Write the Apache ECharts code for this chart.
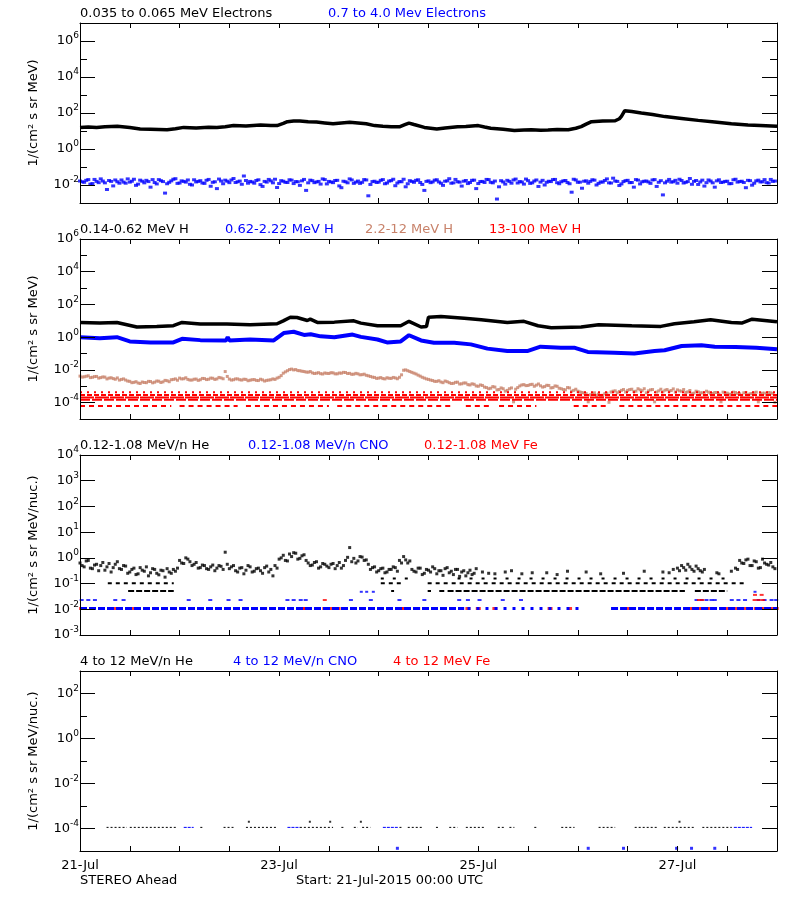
<!DOCTYPE html>
<html><head><meta charset="utf-8">
<script src="https://cdn.jsdelivr.net/npm/echarts@6/dist/echarts.min.js"></script>
<style>html,body{margin:0;padding:0;background:#fff}#c{width:800px;height:900px}</style>
</head><body><div id="c"></div><script>
const FONT = 'DejaVu Sans';
const TAN = '#c8826a', BLUE = '#0000ff', RED = '#ff0000', BLACK = '#000000';

// x values: hours since Start 21-Jul-2015 00:00 UTC ; x tick labels every 48 h
const xTickLabels = ['21-Jul', '23-Jul', '25-Jul', '27-Jul'];
// y ranges per panel (decades)
const yExpRanges = [[-3, 7], [-5, 6], [-3, 4], [-5, 3]];

// ---- Panel 1: electrons (log10 values) ----
const eLowT = [0,2,4,6,9,12,14.5,17,21,23, 25,28,31,33,35,37,40,43.5,46,47.5, 49,50,51.5,53,55,57,59,61,63,65,
  67,69,71,73,75,77,78.3,79.3,80.5,83, 86,88,91,93,96,97.5,99,102,104.7,107, 108.8,111,112.8,115,117.7,119.5,120.8,122,123.3,126,
  129,130,130.5,131.3,133,135.3,138,141,145,149, 153,157,161,164,168];
const eLowLog = [1.20,1.22,1.20,1.24,1.26,1.20,1.11,1.10,1.07,1.12, 1.20,1.17,1.21,1.20,1.24,1.30,1.28,1.33,1.31,1.30,
  1.42,1.52,1.56,1.55,1.52,1.50,1.45,1.40,1.45,1.48, 1.45,1.40,1.30,1.26,1.24,1.23,1.35,1.44,1.36,1.20,
  1.11,1.17,1.24,1.25,1.30,1.22,1.15,1.10,1.03,1.06, 1.07,1.04,1.05,1.08,1.07,1.15,1.24,1.38,1.52,1.55,
  1.57,1.68,1.81,2.13,2.08,2.00,1.92,1.80,1.70,1.59, 1.50,1.40,1.33,1.30,1.26];
// hourly samples (two per hour: on the hour, and half past)
const eHighLogA = [
-1.78,-1.85,-1.70,-1.92,-1.80,-1.66,-1.88,-1.75,-2.05,-1.82,-1.72,-1.90,
-1.84,-1.68,-1.95,-1.79,-1.74,-2.12,-1.86,-1.70,-1.81,-1.93,-1.77,-1.65,
-1.89,-1.80,-1.72,-2.00,-1.83,-1.76,-1.91,-1.69,-1.85,-2.20,-1.78,-1.73,
-1.87,-1.64,-1.82,-1.96,-1.75,-1.80,-1.90,-1.71,-2.08,-1.84,-1.77,-1.68,
-1.92,-1.79,-1.86,-1.73,-1.81,-2.02,-1.69,-1.88,-1.76,-1.83,-1.95,-1.70,
-1.80,-1.87,-1.74,-2.15,-1.82,-1.66,-1.91,-1.78,-1.85,-1.72,-1.97,-1.79,
-1.84,-1.70,-1.89,-1.76,-2.04,-1.81,-1.68,-1.93,-1.80,-1.74,-1.86,-2.30,
-1.77,-1.83,-1.71,-1.90,-1.79,-1.65,-1.88,-1.82,-2.06,-1.75,-1.86,-1.73,
-1.92,-1.80,-1.69,-1.85,-1.78,-2.10,-1.83,-1.74,-1.90,-1.67,-1.81,-1.95,
-1.76,-1.88,-1.72,-1.84,-2.00,-1.79,-1.70,-1.87,-1.82,-1.75,-1.93,-1.68,
-1.85,-2.18,-1.77,-1.80,-1.73,-1.91,-1.84,-1.66,-1.89,-1.78,-2.03,-1.81,
-1.74,-1.86,-1.70,-1.94,-1.79,-1.83,-1.72,-2.08,-1.76,-1.88,-1.69,-1.82,
-1.90,-1.75,-1.85,-1.64,-1.80,-1.97,-1.73,-1.87,-1.78,-2.12,-1.71,-1.84,
-1.79,-1.92,-1.68,-1.81,-1.86,-1.74,-2.01,-1.77,-1.83,-1.70,-1.89,-1.80];
const eHighLogB = [
-1.82,-1.74,-1.95,-1.69,-1.87,-1.78,-2.25,-1.80,-1.72,-1.90,-1.84,-1.66,
-1.79,-2.02,-1.73,-1.88,-1.81,-1.70,-1.94,-1.76,-2.45,-1.85,-1.68,-1.91,
-1.77,-1.84,-1.96,-1.71,-1.80,-1.89,-1.74,-2.07,-1.82,-1.67,-1.93,-1.79,
-1.72,-1.86,-1.78,-1.50,-1.90,-1.83,-1.75,-1.98,-1.80,-1.69,-1.88,-2.14,
-1.76,-1.85,-1.71,-1.92,-1.82,-1.77,-2.30,-1.73,-1.87,-1.80,-1.66,-1.94,
-1.83,-1.75,-2.05,-1.79,-1.88,-1.72,-1.84,-1.91,-1.70,-2.60,-1.81,-1.86,
-1.74,-1.93,-1.78,-1.68,-1.89,-1.82,-2.10,-1.76,-1.85,-1.71,-1.97,-1.80,
-1.87,-1.73,-1.83,-2.02,-1.77,-1.90,-1.69,-1.84,-1.79,-1.92,-1.74,-2.20,
-1.81,-1.86,-1.70,-1.88,-2.78,-1.76,-1.95,-1.80,-1.72,-1.89,-1.83,-1.67,
-1.91,-1.78,-2.08,-1.74,-1.85,-1.81,-1.69,-1.93,-1.77,-1.86,-2.40,-1.72,
-1.84,-1.79,-1.90,-1.71,-2.00,-1.83,-1.75,-1.88,-1.62,-1.80,-1.94,-1.76,
-1.87,-2.12,-1.73,-1.82,-1.78,-1.91,-1.70,-1.85,-2.55,-1.79,-1.84,-1.74,
-1.68,-1.89,-1.81,-1.96,-1.75,-1.83,-2.06,-1.72,-1.88,-1.77,-1.86,-1.80,
-1.93,-1.71,-1.84,-1.79,-2.15,-1.76,-1.90,-1.73,-1.82,-1.87,-1.69,-1.78];

// ---- Panel 2: protons ----
const hLowT = [0,4.8,8.9,11.3,13.7,18.5,22.5,24.6,29,35.4, 41,47.5,49,50.7,52.3,54.8,55.5,57.2,61.3,66,
  67.7,71.7,77.3,79.3,82.2,83.5,84,87,92.6,96.7, 103,107,110.4,113.6,120.8,125,133,140,143.3,148, 152,157,159.5,162,168];
const hLowLog = [0.90,0.86,0.90,0.76,0.62,0.66,0.70,0.90,0.80,0.80, 0.76,0.82,1.00,1.22,1.20,1.02,1.10,0.90,0.92,1.00,
  0.86,0.70,0.70,0.97,0.62,0.65,1.22,1.26,1.16,1.06, 0.90,0.97,0.70,0.58,0.62,0.76,0.70,0.66,0.82,0.94, 1.06,0.90,0.86,1.10,0.94];
const hMidT = [0,4.8,8.9,12,17,22.5,24.6,29,35.2,35.6, 36,41,46.7,49.1,51.5,54,55.6,58,61.3,65.7,
  67.7,71.7,74,77.3,79.3,82.2,85.3,90.2,94.2,98.2, 103,107.8,111,115.9,119.1,122.4,128.8,133.6,138.5,140.9, 145,149.8,153,158,163,168];
const hMidLog = [-0.01,-0.06,0.00,-0.26,-0.32,-0.32,-0.10,-0.18,-0.20,0.00, -0.20,-0.14,-0.20,0.25,0.33,0.14,0.18,0.05,0.00,0.16,
  0.02,-0.14,-0.32,-0.26,0.12,-0.20,-0.34,-0.34,-0.44,-0.70, -0.85,-0.85,-0.58,-0.64,-0.64,-0.90,-0.95,-1.00,-0.85,-0.80,
  -0.54,-0.50,-0.58,-0.60,-0.64,-0.74];
const hHighLogA = [
-2.38,-2.42,-2.36,-2.45,-2.40,-2.47,-2.44,-2.50,-2.53,-2.49,-2.58,-2.62,
-2.70,-2.76,-2.80,-2.74,-2.78,-2.71,-2.75,-2.69,-2.73,-2.66,-2.60,-2.55,
-2.50,-2.54,-2.58,-2.62,-2.56,-2.60,-2.53,-2.57,-2.51,-2.55,-2.49,-2.10,
-2.56,-2.60,-2.55,-2.62,-2.58,-2.63,-2.59,-2.65,-2.61,-2.64,-2.60,-2.58,
-2.45,-2.20,-2.05,-1.95,-1.98,-2.05,-2.10,-2.14,-2.18,-2.20,-2.23,-2.19,
-2.22,-2.18,-2.24,-2.20,-2.16,-2.21,-2.26,-2.24,-2.29,-2.33,-2.40,-2.46,
-2.50,-2.53,-2.48,-2.52,-2.49,-2.45,-2.02,-2.05,-2.15,-2.25,-2.38,-2.50,
-2.58,-2.65,-2.70,-2.74,-2.68,-2.78,-2.82,-2.75,-2.85,-2.80,-2.92,-2.88,
-3.00,-2.95,-3.08,-3.12,-3.05,-3.20,-3.15,-3.25,-3.10,-3.18,-2.98,-2.90,
-2.95,-2.88,-2.93,-2.97,-3.02,-2.95,-3.08,-3.00,-3.15,-3.22,-3.10,-3.25,
-3.30,-3.38,-3.45,-3.52,-3.40,-3.48,-3.55,-3.42,-3.35,-3.28,-3.32,-3.20,
-3.25,-3.18,-3.30,-3.22,-3.15,-3.28,-3.20,-3.35,-3.18,-3.24,-3.30,-3.16,
-3.22,-3.30,-3.38,-3.26,-3.42,-3.34,-3.40,-3.30,-3.45,-3.38,-3.48,-3.36,
-3.42,-3.50,-3.38,-3.46,-3.40,-3.52,-3.44,-3.36,-3.48,-3.42,-3.38,-3.45];
const hHighLogB = [
-2.44,-2.39,-2.47,-2.41,-2.50,-2.43,-2.55,-2.48,-2.57,-2.62,-2.55,-2.68,
-2.78,-2.72,-2.83,-2.77,-2.70,-2.79,-2.68,-2.77,-2.64,-2.72,-2.58,-2.63,
-2.55,-2.48,-2.62,-2.57,-2.64,-2.52,-2.59,-2.50,-2.58,-2.46,-2.54,-2.40,
-2.62,-2.55,-2.60,-2.57,-2.66,-2.60,-2.64,-2.57,-2.68,-2.62,-2.55,-2.50,
-2.35,-2.12,-1.98,-2.00,-2.04,-2.08,-2.13,-2.10,-2.22,-2.17,-2.25,-2.21,
-2.17,-2.24,-2.19,-2.15,-2.22,-2.27,-2.21,-2.30,-2.26,-2.36,-2.44,-2.52,
-2.47,-2.55,-2.51,-2.46,-2.54,-2.30,-2.00,-2.10,-2.20,-2.32,-2.45,-2.55,
-2.62,-2.70,-2.66,-2.78,-2.72,-2.83,-2.76,-2.86,-2.80,-2.90,-2.85,-2.98,
-2.92,-3.05,-3.15,-3.02,-3.22,-3.10,-3.30,-3.15,-3.95,-3.08,-2.92,-2.96,
-2.90,-3.00,-2.86,-3.05,-2.94,-3.10,-2.98,-3.12,-3.20,-3.08,-3.30,-3.18,
-3.35,-3.42,-3.95,-3.48,-3.55,-3.62,-3.45,-3.98,-3.30,-3.40,-3.25,-3.35,
-3.20,-3.32,-3.15,-3.27,-3.40,-3.22,-3.95,-3.28,-3.34,-3.20,-3.26,-3.35,
-3.28,-3.20,-3.34,-3.45,-3.30,-3.40,-3.52,-3.36,-3.44,-3.38,-3.95,-3.42,
-3.48,-3.36,-3.44,-3.55,-3.38,-3.46,-3.40,-3.95,-3.42,-3.50,-3.40,-3.98];
// 13-100 MeV H: count-quantised levels (log10) and the hour spans where they occur
const hTopLevels = [-3.37, -3.54, -3.68, -3.82, -4.20];
const hTopSpans = [
  [[0,168]],
  [[0,168]],
  [[0,168]],
  [[0,168]],
  [[0,22],[24,38],[40,60],[62,90],[93,99],[101,110],[119,127],[130,168]]];

// ---- Panel 3: 0.12-1.08 MeV/n ions ----
const heLogA = [
-0.20,-0.35,-0.10,-0.42,-0.25,-0.30,-0.48,-0.22,-0.38,-0.15,-0.45,-0.32,
-0.55,-0.40,-0.62,-0.48,-0.35,-0.58,-0.45,-0.66,-0.50,-0.42,-0.60,-0.52,
-0.10,-0.22,-0.05,-0.30,-0.18,-0.38,-0.30,-0.45,-0.28,-0.40,-0.33,0.22,
-0.42,-0.30,-0.55,-0.38,-0.48,-0.35,-0.52,-0.40,-0.60,-0.32,-0.45,-0.30,
-0.05,0.10,-0.12,0.05,0.18,-0.02,0.12,-0.20,-0.28,-0.15,-0.35,-0.25,
-0.38,-0.22,-0.30,-0.40,-0.10,0.40,-0.02,-0.12,0.03,-0.08,-0.45,-0.35,
-0.50,-0.40,-0.55,-0.45,-0.38,-0.10,0.05,-0.20,-0.45,-0.55,-0.40,-0.60,
-0.48,-0.35,-0.62,-0.50,-0.42,-0.58,-0.65,-0.45,-0.55,-0.70,-0.48,-0.60,
null,-0.55,null,null,-0.62,null,null,null,-0.50,null,null,null,
null,-0.58,null,null,null,null,null,-0.65,null,null,null,null,
null,null,-0.55,null,null,null,null,null,null,null,null,-0.60,
null,null,null,null,-0.52,null,null,null,null,null,-0.58,-0.45,
-0.40,-0.30,-0.48,-0.35,-0.52,-0.42,-0.55,null,null,null,-0.62,null,
null,-0.52,-0.40,-0.10,-0.22,-0.05,-0.30,-0.15,-0.38,-0.20,-0.28,-0.35];
const heLogB = [
-0.30,-0.12,-0.40,-0.28,-0.50,-0.18,-0.35,-0.55,-0.25,-0.42,-0.30,-0.60,
-0.45,-0.65,-0.38,-0.52,-0.70,-0.42,-0.60,-0.48,-0.75,-0.55,-0.45,-0.40,
-0.20,0.00,-0.15,-0.25,-0.40,-0.28,-0.42,-0.35,-0.50,-0.30,-0.45,-0.25,
-0.35,-0.50,-0.40,-0.62,-0.30,-0.55,-0.42,-0.50,-0.38,-0.55,-0.70,-0.40,
0.00,-0.10,0.15,0.20,-0.05,0.08,-0.10,-0.30,-0.18,-0.40,-0.22,-0.32,
-0.25,-0.42,-0.18,-0.30,0.02,-0.15,-0.20,0.05,-0.10,-0.25,-0.38,-0.55,
-0.42,-0.58,-0.45,-0.35,-0.52,-0.20,-0.08,-0.12,-0.52,-0.40,-0.65,-0.45,
-0.55,-0.42,-0.50,-0.68,-0.38,-0.52,-0.45,-0.72,-0.50,-0.58,-0.65,-0.42,
null,null,-0.60,null,null,null,-0.55,null,null,null,-0.62,null,
null,null,null,null,-0.58,null,null,null,null,-0.52,null,null,
null,null,null,null,null,-0.62,null,null,null,null,null,null,
null,null,null,null,null,null,null,null,-0.55,null,null,null,
-0.50,-0.38,-0.25,-0.45,-0.32,-0.50,-0.45,null,null,-0.58,null,null,
null,null,-0.45,-0.20,-0.08,-0.30,-0.12,-0.40,-0.05,-0.25,-0.18,-0.42];
// He count-quantised rows
const heRowLevels = [-1.29, -0.99, -0.80];
const heRowSpans = [
  [[11.6,22.6],[75,75.7],[83.8,84.6],[86.6,87.8],[88.6,145.8],[148.2,156]],
  [[6.7,22.6],[72.5,78],[83.8,160.3]],
  [[72.5,80],[91,157]]];
// CNO
const cnoRowLevel = -1.97;
const cnoRowDense = [[0,92.6],[128,168]];
const cnoRowSparse = [[93.4,121]];
const cno2Level = -1.64;
const cno2Hours = [0.4,2,3.6,8.5,10.5,26.2,31.4,35.8,38.7,50,51.5,53.2,54.4,65.3,70.1,77,83,91.4,93.5,96.3,101.9,106.3,
  148.6,149.8,151,152.2,153,157.1,158.7,160.3,163.5,165,166.7,167.8];
const cno3Level = -1.32;
const cno3Hours = [67.8, 69.1, 70.7, 162.7];
// Fe
const feLevel = -1.97;
const feHours = [0.4,8.5,12.9,29,44,44.5,53.7,54.4,55,59,60.6,62.2,76.6,77.4,78.2,79,81.4,93.5,96,100,113.3,118,132.4,133.4,
  146,147,148,149,150,151,152,154.8,155.8,156.8,158,159,160,161.6,163,164,165,166,167,167.8];
const fe2Level = -1.64;
const fe2Hours = [59, 149.2, 150, 162.6, 163.6, 164.6];
const fe3Level = -1.44;
const fe3Hours = [162.7, 164.3];

// ---- Panel 4: 4-12 MeV/n ions ----
const hiRowLevel = -3.95;
const hiHeSpans = [[6.4,11.3],[12,23.4],[29,29.8],[34.6,37],[40,47.5],[53,61],[63,63.6],[66,67],[68,70],[77,77.5],[79,82.6],
  [85.8,86.3],[89,91],[93,97.4],[100.7,102.3],[103.5,104.7],[109.5,110.4],[116,119.2],[125,129],[133.7,139.4],[140.7,148.2],[150,157.1]];
const hiCnoSpans = [[25,27.4],[50,53],[73,76.6],[157.6,162]];
const hiHe2Level = -3.70;
const hiHe2Hours = [40.7, 55.4, 60.3, 67.7, 144.5];
const hiCno2Level = -4.88;
const hiCno2Hours = [76.5, 122.5, 131, 143.8, 147.4, 153];

// ================= build =================
const panelTops = [23, 239, 455, 671];
const labelRule = [e => e % 2 === 0, e => e % 2 === 0, e => true, e => e % 2 === 0];
const majorRule = labelRule;
const P = v => Math.pow(10, v);
const fromPairs = (ts, logs) => ts.map((t, i) => [t, P(logs[i])]);
const fromHourly = (logs, off) => { const o = []; logs.forEach((v, i) => { if (v !== null) o.push([i + off, P(v)]); }); return o; };
const fromSpans = (spans, lvl) => { const o = []; spans.forEach(s => { o.push([s[0], P(lvl)], [s[1], P(lvl)], [s[1], '-']); }); return o; };
const fromHours = (hs, lvl) => hs.map(h => [h, P(lvl)]);

const option = { animation: false, backgroundColor: '#fff', grid: [], xAxis: [], yAxis: [], series: [], graphic: [] };

const rich = {
  b: { fontSize: 13, fontFamily: FONT, color: '#000', verticalAlign: 'middle' },
  s: { fontSize: 9, fontFamily: FONT, color: '#000', verticalAlign: 'middle', padding: [0, 0, 10, 0] }
};

panelTops.forEach((top, i) => {
  option.grid.push({ left: 80, right: 23, top: top, height: 180 });
  ['bottom', 'top'].forEach(pos => {
    option.xAxis.push({
      type: 'value', gridIndex: i, position: pos, min: 0, max: 168, interval: 12, z: 10,
      axisLine: { show: true, onZero: false, lineStyle: { color: '#000', width: 1 } },
      axisTick: { show: true, inside: true, length: 5, lineStyle: { color: '#000', width: 1 } },
      axisLabel: { show: (i === 3 && pos === 'bottom'), margin: 8, color: '#000', fontSize: 13, fontFamily: FONT,
        formatter: v => (v % 48 === 0 ? xTickLabels[v / 48] : '') },
      splitLine: { show: false }
    });
  });
  const [lo, hi] = yExpRanges[i];
  const cats = []; for (let e = lo; e <= hi; e++) cats.push(String(e));
  option.yAxis.push({ type: 'log', logBase: 10, gridIndex: i, min: P(lo), max: P(hi), show: false });
  [['left', true], ['left', false], ['right', true], ['right', false]].forEach(([pos, major]) => {
    option.yAxis.push({
      type: 'category', gridIndex: i, position: pos, data: cats, boundaryGap: false, z: 10,
      axisLine: { show: major, onZero: false, lineStyle: { color: '#000', width: 1 } },
      axisTick: { show: true, inside: true, length: major ? 15 : 7,
        interval: major ? ((idx, v) => majorRule[i](+v)) : 0, lineStyle: { color: '#000', width: 1 } },
      axisLabel: { show: pos === 'left' && major, margin: 1, interval: (idx, v) => labelRule[i](+v),
        formatter: v => '{b|10}{s|' + v + '}', rich: rich },
      splitLine: { show: false }
    });
  });
});

function line(i, data, color, width, dash) {
  option.series.push({ type: 'line', xAxisIndex: i * 2, yAxisIndex: i * 5, data, showSymbol: false, symbol: 'none',
    connectNulls: false, silent: true, clip: true, lineStyle: { color, width, type: dash || 'solid' }, itemStyle: { color } });
}
function dots(i, data, color, size) {
  option.series.push({ type: 'scatter', xAxisIndex: i * 2, yAxisIndex: i * 5, data, symbol: 'rect', symbolSize: size,
    silent: true, clip: true, itemStyle: { color } });
}

// panel 1
dots(0, fromHourly(eHighLogA, 0), BLUE, [4, 3]);
dots(0, fromHourly(eHighLogB, 0.5), BLUE, [4, 3]);
line(0, fromPairs(eLowT, eLowLog), BLACK, 3.5);
// panel 2
const topDash = [[2, 5], [5, 2], [14, 1], [10, 2], [5, 4]];
hTopLevels.forEach((lvl, k) => line(1, fromSpans(hTopSpans[k], lvl), RED, 2, topDash[k]));
dots(1, fromHourly(hHighLogA, 0), TAN, [3, 3]);
dots(1, fromHourly(hHighLogB, 0.5), TAN, [3, 3]);
line(1, fromPairs(hMidT, hMidLog), BLUE, 4);
line(1, fromPairs(hLowT, hLowLog), BLACK, 3.5);
// panel 3
line(2, fromSpans(cnoRowDense, cnoRowLevel), BLUE, 3, [7, 2]);
line(2, fromSpans(cnoRowSparse, cnoRowLevel), BLUE, 3, [3, 6]);
dots(2, fromHours(cno2Hours, cno2Level), BLUE, [4, 2]);
dots(2, fromHours(cno3Hours, cno3Level), BLUE, [3, 2]);
dots(2, fromHours(feHours, feLevel), RED, [5, 3]);
dots(2, fromHours(fe2Hours, fe2Level), RED, [4, 2]);
dots(2, fromHours(fe3Hours, fe3Level), RED, [4, 2]);
const heDash = [[6, 2], [4, 4], [3, 9]];
heRowLevels.forEach((lvl, k) => line(2, fromSpans(heRowSpans[k], lvl), BLACK, 2, heDash[k]));
dots(2, fromHourly(heLogA, 0), BLACK, [3, 3]);
dots(2, fromHourly(heLogB, 0.5), BLACK, [3, 3]);
// panel 4
line(3, fromSpans(hiHeSpans, hiRowLevel), BLACK, 1, [2, 2]);
line(3, fromSpans(hiCnoSpans, hiRowLevel), BLUE, 1, [3, 1]);
dots(3, fromHours(hiHe2Hours, hiHe2Level), BLACK, [2, 2]);
dots(3, fromHours(hiCno2Hours, hiCno2Level), BLUE, [3, 3]);

// texts
const titleTexts = [
  [['0.035 to 0.065 MeV Electrons', BLACK, 80], ['0.7 to 4.0 Mev Electrons', BLUE, 328]],
  [['0.14-0.62 MeV H', BLACK, 80], ['0.62-2.22 MeV H', BLUE, 225], ['2.2-12 MeV H', TAN, 365], ['13-100 MeV H', RED, 489]],
  [['0.12-1.08 MeV/n He', BLACK, 80], ['0.12-1.08 MeV/n CNO', BLUE, 248], ['0.12-1.08 MeV Fe', RED, 424]],
  [['4 to 12 MeV/n He', BLACK, 80], ['4 to 12 MeV/n CNO', BLUE, 233], ['4 to 12 MeV Fe', RED, 393]]];
const titleY = [14, 229.5, 446, 661.5];
const yTitles = ['1/(cm² s sr MeV)', '1/(cm² s sr MeV)', '1/(cm² s sr MeV/nuc.)', '1/(cm² s sr MeV/nuc.)'];
function txt(s, x, y, color, align, rot) {
  option.graphic.push({ type: 'text', x, y, rotation: rot || 0, silent: true,
    style: { text: s, fill: color, font: '13px "' + FONT + '"', align: align, verticalAlign: 'middle',
      textAlign: align, textVerticalAlign: 'middle' } });
}
titleTexts.forEach((row, i) => row.forEach(([s, c, x]) => txt(s, x, titleY[i], c, 'left')));
yTitles.forEach((s, i) => txt(s, 34, panelTops[i] + 90, BLACK, 'center', Math.PI / 2));
txt('STEREO Ahead', 80, 881, BLACK, 'left');
txt('Start: 21-Jul-2015 00:00 UTC', 296, 881, BLACK, 'left');

const chart = echarts.init(document.getElementById('c'), null, { renderer: 'canvas' });
chart.setOption(option);
</script></body></html>
